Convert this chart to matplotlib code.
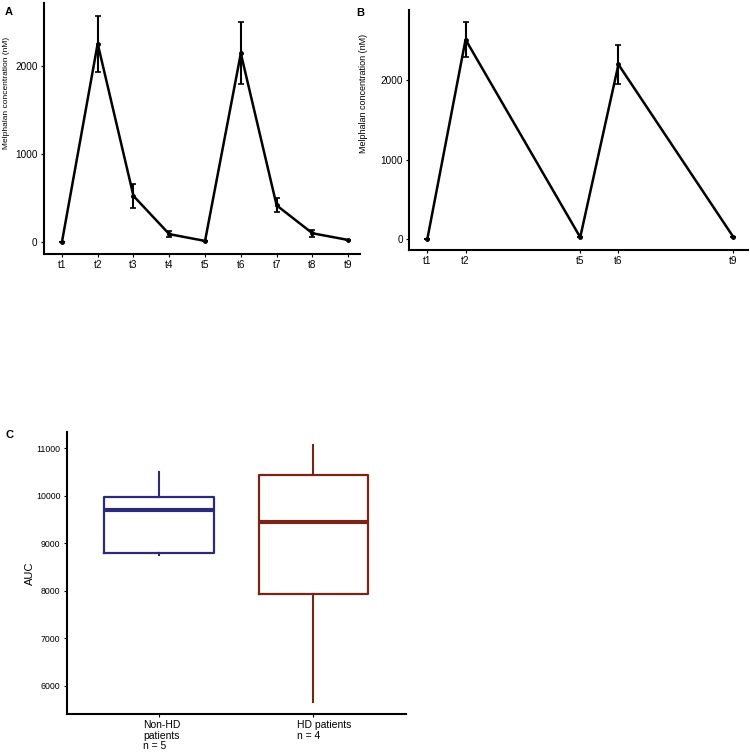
import numpy as np
import matplotlib
matplotlib.use("Agg")
import matplotlib.pyplot as plt
import matplotlib.transforms as mtransforms

plt.rcParams['font.family'] = ['Liberation Sans', 'DejaVu Sans']

# data ------------------------------------------------------------
timesA = ["t1", "t2", "t3", "t4", "t5", "t6", "t7", "t8", "t9"]
posA   = [1, 2, 3, 4, 5, 6, 7, 8, 9]
meanA  = [0, 2250, 525, 92, 15, 2140, 418, 102, 26]
errA   = [0, 318, 134, 37, 0, 350, 80, 42, 0]

timesB = ["t1", "t2", "t5", "t6", "t9"]
posB   = [1, 2, 5, 6, 9]
meanB  = [0, 2508, 22, 2195, 30]
errB   = [0, 215, 0, 240, 0]

groupsC  = ["Non-HD\npatients\nn = 5", "HD patients\nn = 4"]
whisloC  = [8746, 5663]
q1C      = [8802, 7926]
medC     = [9701, 9449]
q3C      = [9968, 10438]
whishiC  = [10507, 11070]
colorsC  = ["#2E2A7A", "#7A2418"]

# figure ----------------------------------------------------------
W, H = 750, 753
fig = plt.figure(figsize=(W/100, H/100), dpi=100)

def px_axes(l, t, r, b):
    return fig.add_axes([l/W, 1-b/H, (r-l)/W, (b-t)/H])

def style(ax, fs):
    for s in ["top", "right"]:
        ax.spines[s].set_visible(False)
    for s in ["left", "bottom"]:
        ax.spines[s].set_linewidth(1.5)
    ax.tick_params(length=2.5, width=0.8, labelsize=fs, pad=2)

# A
axA = px_axes(44, 3, 360, 254)
axA.errorbar(posA, meanA, yerr=errA, color="k", lw=1.8, elinewidth=1.5,
             capsize=2, capthick=1.2, marker="o", ms=2.5)
axA.set_xticks(posA)
axA.set_xticklabels(timesA)
axA.set_yticks([0, 1000, 2000])
axA.set_xlim(0.5, 9.33)
axA.set_ylim(-133, 2710)
style(axA, 7.2)
fig.text(7/W, 1-93/H, "Melphalan concentration (nM)", rotation=90,
         ha="center", va="center", fontsize=6)
fig.text(5/W, 1-12/H, "A", fontsize=8, fontweight="bold", va="center")

# B
axB = px_axes(409, 10, 748, 250)
axB.errorbar(posB, meanB, yerr=errB, color="k", lw=1.8, elinewidth=1.5,
             capsize=2, capthick=1.2, marker="o", ms=2.5)
axB.set_xticks(posB)
axB.set_xticklabels(timesB)
axB.set_yticks([0, 1000, 2000])
axB.set_xlim(0.52, 9.39)
axB.set_ylim(-138, 2880)
style(axB, 7.2)
fig.text(363/W, 1-93/H, "Melphalan concentration (nM)", rotation=90,
         ha="center", va="center", fontsize=6.5)
fig.text(356/W, 1-13/H, "B", fontsize=8, fontweight="bold", va="center")

# C
axC = px_axes(66.7, 432.3, 406, 714)
stats = []
for i in range(len(groupsC)):
    stats.append({"whislo": whisloC[i], "q1": q1C[i], "med": medC[i],
                  "q3": q3C[i], "whishi": whishiC[i], "fliers": []})
bp = axC.bxp(stats, positions=[1, 2], widths=0.71, showcaps=False,
             showfliers=False, patch_artist=False)
for i, c in enumerate(colorsC):
    bp["boxes"][i].set(color=c, lw=1.6)
    bp["medians"][i].set(color=c, lw=3)
    for w in bp["whiskers"][2*i:2*i+2]:
        w.set(color=c, lw=1.5)
axC.set_xlim(0.4, 2.6)
axC.set_ylim(5404, 11337)
axC.set_yticks([6000, 7000, 8000, 9000, 10000, 11000])
axC.set_xticks([1, 2])
axC.set_xticklabels(groupsC, fontsize=7.5, ha="left", linespacing=1.05)
style(axC, 6.3)
axC.tick_params(axis="x", labelsize=7.5, pad=2)
off = mtransforms.ScaledTranslation(-16/100, 0, fig.dpi_scale_trans)
for lab in axC.get_xticklabels():
    lab.set_transform(lab.get_transform() + off)
axC.set_ylabel("AUC", fontsize=8, labelpad=1)
fig.text(6/W, 1-435/H, "C", fontsize=8, fontweight="bold", va="center")

fig.savefig("out.png", dpi=100)
